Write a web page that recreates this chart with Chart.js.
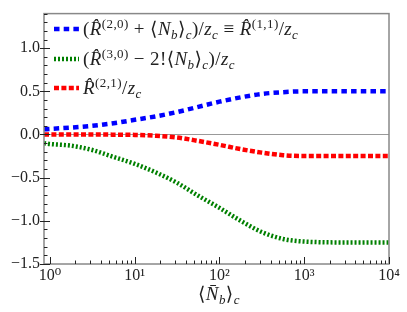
<!DOCTYPE html>
<html><head><meta charset="utf-8">
<script src="https://cdn.jsdelivr.net/npm/chart.js@4"></script>
<style>
html,body{margin:0;padding:0;background:#fff;}
#wrap{position:relative;width:407px;height:312px;}
canvas{position:absolute;left:0;top:0;}
.t{position:absolute;font-family:"Liberation Serif","DejaVu Serif",serif;font-size:19px;color:#222;white-space:nowrap;line-height:19px;letter-spacing:0.4px;}
.t sup,.t sub{font-size:13px;line-height:0;}
.t sup{vertical-align:7px;}
.t sub{vertical-align:-4px;}
</style></head>
<body><div id="wrap"><canvas id="c" width="407" height="312"></canvas>
<div class="t" style="left:83px;top:19px;">(<i>R̂</i><sup>(2,0)</sup> + ⟨<i>N</i><sub><i>b</i></sub>⟩<sub><i>c</i></sub>)/<i>z</i><sub><i>c</i></sub> ≡ <i>R̂</i><sup>(1,1)</sup>/<i>z</i><sub><i>c</i></sub></div>
<div class="t" style="left:83px;top:49px;">(<i>R̂</i><sup>(3,0)</sup> − 2!⟨<i>N</i><sub><i>b</i></sub>⟩<sub><i>c</i></sub>)/<i>z</i><sub><i>c</i></sub></div>
<div class="t" style="left:83px;top:78px;"><i>R̂</i><sup>(2,1)</sup>/<i>z</i><sub><i>c</i></sub></div>
<div class="t" style="left:198px;top:284px;">⟨<i>N̄</i><sub><i>b</i></sub>⟩<sub><i>c</i></sub></div>
</div>
<script>
const xValues = [0.85, 1, 1.78, 3.16, 5.62, 10, 17.8, 31.6, 56.2, 100, 178, 316, 562, 1000, 3162, 10000];
const blueValues = [0.06, 0.065, 0.08, 0.10, 0.13, 0.17, 0.21, 0.26, 0.32, 0.38, 0.43, 0.47, 0.49, 0.50, 0.50, 0.50];
const greenValues = [-0.10, -0.11, -0.13, -0.18, -0.26, -0.34, -0.44, -0.56, -0.71, -0.85, -1.00, -1.13, -1.21, -1.24, -1.25, -1.25];
const redValues = [0, 0, 0, 0, -0.002, -0.005, -0.015, -0.035, -0.075, -0.12, -0.17, -0.21, -0.24, -0.25, -0.25, -0.25];
const xTickValues = [1, 10, 100, 1000, 10000];
const xTickLabels = ['10⁰', '10¹', '10²', '10³', '10⁴'];
const yTickValues = [-1.5, -1.0, -0.5, 0.0, 0.5, 1.0];
const seriesNames = ['blue', 'green', 'red'];

const pts = arr => xValues.map((x, i) => ({x, y: arr[i]}));
const styles = {
  blue: {color: '#0000ff', dash: [5.5, 4.2], width: 4.5},
  green: {color: '#008000', dash: [2, 2], width: 4.5},
  red: {color: '#ff0000', dash: [5, 2.4], width: 4.5}
};
const seriesData = {blue: blueValues, green: greenValues, red: redValues};

const fmt = v => (v < 0 ? '−' : '') + Math.abs(v).toFixed(1);
const tickFont = {family: '"Liberation Serif","DejaVu Serif",serif', size: 16};

const deco = {
  id: 'deco',
  beforeDatasetsDraw(chart) {
    const {ctx, chartArea: a, scales: {y}} = chart;
    ctx.save();
    ctx.strokeStyle = '#999';
    ctx.lineWidth = 1.2;
    const y0 = Math.round(y.getPixelForValue(0)) + 0.5;
    ctx.beginPath(); ctx.moveTo(a.left, y0); ctx.lineTo(a.right, y0); ctx.stroke();
    ctx.restore();
  },
  afterDraw(chart) {
    const {ctx, chartArea: a, scales: {x, y}} = chart;
    ctx.save();
    ctx.strokeStyle = '#888';
    ctx.lineWidth = 1.5;
    ctx.strokeRect(a.left, a.top, a.right - a.left, a.bottom - a.top);
    ctx.strokeStyle = '#222';
    ctx.lineWidth = 1;
    for (let k = -15; k <= 14; k++) {
      const v = k / 10;
      const py = Math.round(y.getPixelForValue(v)) + 0.5;
      const major = k % 5 === 0;
      ctx.beginPath();
      ctx.moveTo(a.left - (major ? 4 : 0), py);
      ctx.lineTo(a.left + (major ? 6 : 3.5), py);
      ctx.stroke();
    }
    for (let d = 0; d <= 4; d++) {
      for (let m = 1; m <= 9; m++) {
        const v = m * Math.pow(10, d);
        if (v > 10000) continue;
        const px = Math.round(x.getPixelForValue(v)) + 0.5;
        const major = m === 1;
        ctx.beginPath();
        ctx.moveTo(px, a.bottom);
        ctx.lineTo(px, a.bottom - (major ? 7 : 3.5));
        ctx.stroke();
      }
    }
    const rows = [29, 59, 88];
    seriesNames.forEach((n, i) => {
      const s = styles[n];
      ctx.strokeStyle = s.color;
      ctx.lineWidth = s.width;
      ctx.setLineDash(s.dash);
      ctx.beginPath();
      ctx.moveTo(54, rows[i]);
      ctx.lineTo(79, rows[i]);
      ctx.stroke();
    });
    ctx.restore();
  }
};

new Chart(document.getElementById('c'), {
  type: 'line',
  data: {
    datasets: seriesNames.map(n => ({
      label: n,
      data: pts(seriesData[n]),
      borderColor: styles[n].color,
      borderWidth: styles[n].width,
      borderDash: styles[n].dash,
      borderCapStyle: 'butt',
      pointRadius: 0,
      fill: false,
      cubicInterpolationMode: 'monotone'
    }))
  },
  options: {
    responsive: false,
    animation: false,
    layout: {padding: {top: 6, right: 18, left: 0, bottom: 0}},
    plugins: {legend: {display: false}, tooltip: {enabled: false}},
    scales: {
      x: {
        type: 'logarithmic', min: 0.85, max: 10000,
        grid: {display: false, drawTicks: false},
        border: {display: false},
        afterBuildTicks: s => { s.ticks = xTickValues.map(v => ({value: v})); },
        afterFit: s => { s.height = 48; },
        ticks: {
          autoSkip: false, maxRotation: 0, padding: 2, color: '#222',
          font: tickFont,
          callback: v => { const i = xTickValues.indexOf(v); return i >= 0 ? xTickLabels[i] : ''; }
        }
      },
      y: {
        min: -1.5, max: 1.4,
        grid: {display: false, drawTicks: false},
        border: {display: false},
        afterBuildTicks: s => { s.ticks = yTickValues.map(v => ({value: v})); },
        afterFit: s => { s.width = 44; },
        ticks: {
          autoSkip: false, padding: 4, color: '#222',
          font: tickFont,
          callback: v => fmt(v)
        }
      }
    }
  },
  plugins: [deco]
});
</script>
</body></html>
